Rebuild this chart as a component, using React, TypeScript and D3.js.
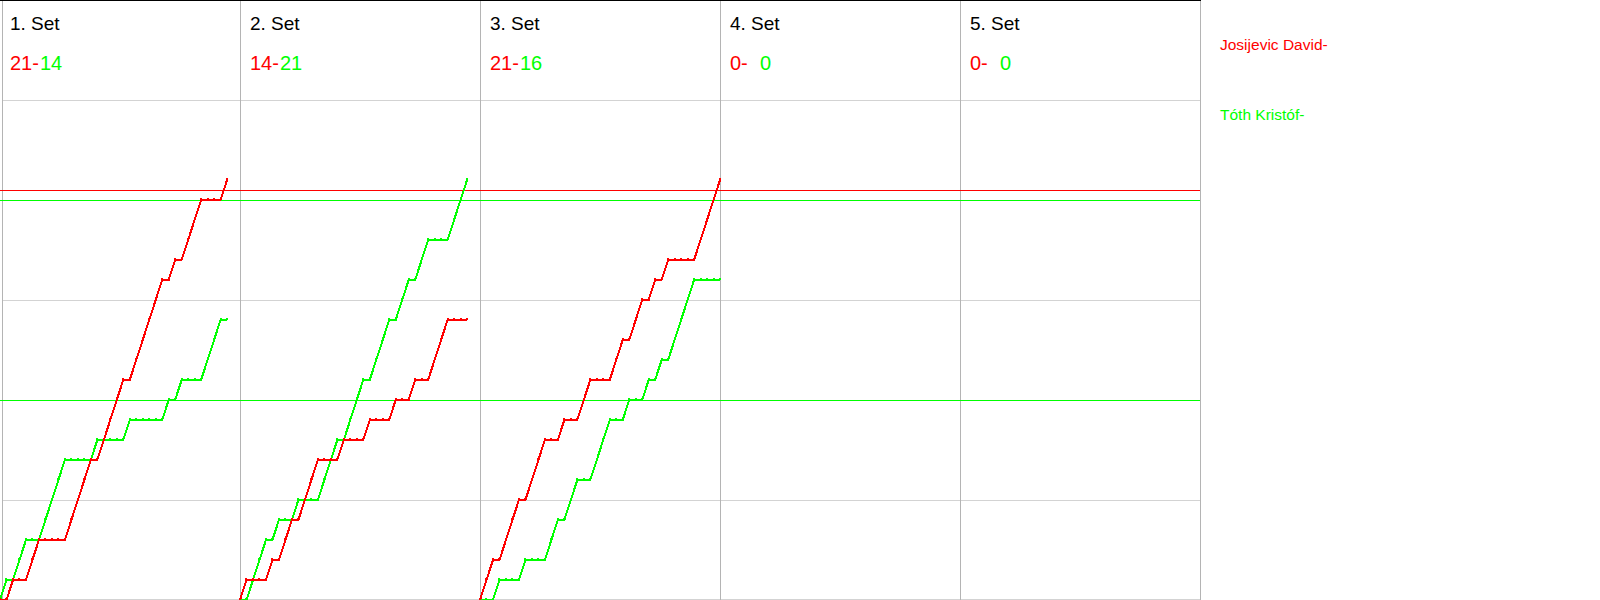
import React from "react";
import * as d3 from "d3";

const setTitles = ["1. Set", "2. Set", "3. Set", "4. Set", "5. Set"];
const redScores = [21, 14, 21, 0, 0];
const greenScores = [14, 21, 16, 0, 0];
const playerRed = "Josijevic David-";
const playerGreen = "Tóth Kristóf-";

// cumulative score after each rally, per set
const redSet1 = [0,0,1,1,1,2,3,3,3,3,3,4,5,6,7,7,8,9,10,11,11,12,13,14,15,16,16,17,17,18,19,20,20,20,20,21];
const greenSet1 = [0,1,1,2,3,3,3,4,5,6,7,7,7,7,7,8,8,8,8,8,9,9,9,9,9,9,10,10,11,11,11,11,12,13,14,14];
const redSet2 = [0,1,1,1,1,2,2,3,4,4,5,6,7,7,7,7,8,8,8,8,9,9,9,9,10,10,10,11,11,11,12,13,14,14,14,14];
const greenSet2 = [0,0,1,2,3,3,4,4,4,5,5,5,5,6,7,8,8,9,10,11,11,12,13,14,14,15,16,16,17,18,18,18,18,19,20,21];
const redSet3 = [0,1,2,2,3,4,5,5,6,7,8,8,8,9,9,9,10,11,11,11,11,12,13,13,14,15,15,16,16,17,17,17,17,17,18,19,20,21];
const greenSet3 = [0,0,0,1,1,1,1,2,2,2,2,3,4,4,5,6,6,6,7,8,9,9,9,10,10,10,11,11,12,12,13,14,15,16,16,16,16,16];
const redSet4: number[] = [];
const greenSet4: number[] = [];
const redSet5: number[] = [];
const greenSet5: number[] = [];

const redSeries = [redSet1, redSet2, redSet3, redSet4, redSet5];
const greenSeries = [greenSet1, greenSet2, greenSet3, greenSet4, greenSet5];

const redRefLines = [20.5];
const greenRefLines = [20, 10];
const gridValues = [5, 10, 15, 20, 25];

const RED = "#ff0000";
const GREEN = "#00ff00";
const FONT = "Arial, 'Liberation Sans', sans-serif";

export default function App() {
  const panelW = 240;
  const chartRight = 1200;
  const maxRallies = d3.max([...redSeries, ...greenSeries], (s) => s.length - 1) || 1;
  const x = d3.scaleLinear().domain([0, maxRallies]).range([0, panelW]);
  const y = d3.scaleLinear().domain([0, 30]).range([600, 0]);
  const line = d3
    .line<number>()
    .x((_, i) => x(i))
    .y((d) => y(d));

  return (
    <svg
      width={1600}
      height={600}
      style={{ position: "absolute", left: 0, top: 0, background: "#fff" }}
      fontFamily={FONT}
    >
      <rect x={0} y={0} width={1600} height={600} fill="#fff" />
      {gridValues.map((v) => (
        <line key={"g" + v} x1={2} x2={chartRight} y1={Math.round(y(v)) + 0.5} y2={Math.round(y(v)) + 0.5} stroke="#d3d3d3" strokeWidth={1} />
      ))}
      <line x1={2} x2={chartRight} y1={599.5} y2={599.5} stroke="#d3d3d3" strokeWidth={1} />
      {[0, 1, 2, 3, 4, 5].map((i) => {
        const xx = i === 0 ? 2.5 : i * panelW + 0.5;
        return <line key={"v" + i} x1={xx} x2={xx} y1={0} y2={600} stroke="#b4b4b4" strokeWidth={1} />;
      })}
      <line x1={0} x2={chartRight + 1} y1={0.5} y2={0.5} stroke="#000" strokeWidth={1} />
      {redRefLines.map((v) => (
        <line key={"r" + v} x1={0} x2={chartRight} y1={Math.round(y(v)) + 0.5} y2={Math.round(y(v)) + 0.5} stroke={RED} strokeWidth={1} />
      ))}
      {greenRefLines.map((v) => (
        <line key={"gr" + v} x1={0} x2={chartRight} y1={Math.round(y(v)) + 0.5} y2={Math.round(y(v)) + 0.5} stroke={GREEN} strokeWidth={1} />
      ))}
      {setTitles.map((title, i) => {
        const left = i * panelW;
        return (
          <g key={title}>
            <text x={left + 10} y={30} fontSize={19} fill="#000">{title}</text>
            <text x={left + 10} y={70} fontSize={20} fill={RED}>{redScores[i] + "-"}</text>
            <text x={left + 40} y={70} fontSize={20} fill={GREEN}>{String(greenScores[i])}</text>
            <g transform={`translate(${left},0)`}>
              {[
                { data: greenSeries[i], color: GREEN },
                { data: redSeries[i], color: RED },
              ].map((s, k) =>
                s.data.length > 0 ? (
                  <g key={k}>
                    <path d={line(s.data) || ""} fill="none" stroke={s.color} strokeWidth={2} shapeRendering="crispEdges" />
                    {s.data.map((d, j) => (
                      <rect key={j} x={Math.round(x(j)) - 1} y={Math.round(y(d)) - 2} width={2} height={2} fill={s.color} shapeRendering="crispEdges" />
                    ))}
                  </g>
                ) : null
              )}
            </g>
          </g>
        );
      })}
      <text x={1220} y={49.5} fontSize={15.5} fill={RED}>{playerRed}</text>
      <text x={1220} y={120} fontSize={15.5} fill={GREEN}>{playerGreen}</text>
    </svg>
  );
}
